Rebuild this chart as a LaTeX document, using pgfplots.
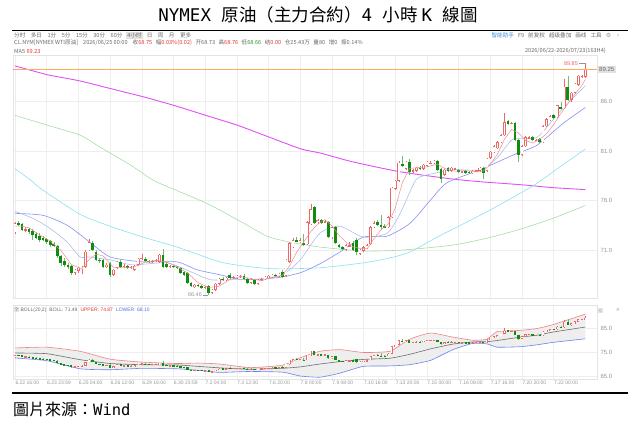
\documentclass[border=0pt]{standalone}
\usepackage{fontspec}
\setmainfont{Liberation Sans}
\newfontfamily\cjktc{Noto Sans CJK TC}
\newfontfamily\cjksc{Noto Sans CJK SC}
\newfontfamily\mono{DejaVu Sans Mono}
\newfontfamily\djv{DejaVu Sans}
\usepackage{pgfplots}
\usepackage{pgfplotstable}
\pgfplotsset{compat=1.18}
\usepgfplotslibrary{fillbetween}

\definecolor{upc}{RGB}{236,104,104}
\definecolor{dnc}{RGB}{16,140,16}
\definecolor{dnw}{RGB}{110,190,110}
\definecolor{ma5c}{RGB}{240,140,140}
\definecolor{ma10c}{RGB}{175,190,235}
\definecolor{ma20c}{RGB}{135,145,240}
\definecolor{ma60c}{RGB}{135,225,240}
\definecolor{ma120c}{RGB}{165,222,165}
\definecolor{ma250c}{RGB}{225,80,245}
\definecolor{orangeline}{RGB}{255,170,90}
\definecolor{gridc}{RGB}{238,238,238}
\definecolor{axc}{RGB}{228,228,228}
\definecolor{labc}{RGB}{150,150,150}
\definecolor{txtc}{RGB}{105,105,105}
\definecolor{redc}{RGB}{230,50,50}
\definecolor{grnc}{RGB}{30,150,30}
\definecolor{bluec}{RGB}{80,110,230}
\definecolor{bollup}{RGB}{240,130,130}
\definecolor{bollmid}{RGB}{110,110,110}
\definecolor{bolllo}{RGB}{110,130,240}
\definecolor{bollfill}{RGB}{238,238,238}
\definecolor{boxc}{RGB}{226,226,226}
\definecolor{helpc}{RGB}{60,140,220}

\pgfplotstableread{
i o h l c
0 72.8 73.8 72.6 73.7
1 73.7 73.9 73.4 73.6
2 73.6 73.7 72.9 73.0
3 73.0 73.3 72.8 73.1
4 73.1 73.2 72.6 72.8
5 72.9 73.1 72.0 72.5
6 72.6 72.8 72.1 72.2
7 72.4 72.7 71.8 72.0
8 72.2 72.4 71.9 72.0
9 72.1 72.2 71.6 71.8
10 71.9 72.0 71.3 71.5
11 71.6 71.8 71.3 71.5
12 71.4 71.5 70.2 70.4
13 70.4 70.5 69.4 69.7
14 69.9 70.2 69.3 69.5
15 69.5 69.7 69.1 69.3
16 69.4 69.5 68.5 68.7
17 68.7 69.1 68.5 69.0
18 68.9 69.3 68.7 69.2
19 69.1 69.4 68.6 69.3
20 69.3 71.0 69.2 70.8
21 71.0 72.1 70.9 71.8
22 71.7 71.9 70.9 71.0
23 70.8 71.0 69.9 70.0
24 70.0 70.2 69.7 69.9
25 70.0 70.1 69.2 69.3
26 69.3 69.7 69.2 69.5
27 69.7 69.8 68.3 68.5
28 68.5 69.1 68.4 69.0
29 69.2 69.9 69.1 69.8
30 69.8 70.0 69.2 69.3
31 69.3 69.6 69.2 69.4
32 69.4 69.5 69.1 69.2
33 69.2 69.4 69.1 69.3
34 69.0 69.5 68.9 69.4
35 69.5 70.2 69.4 70.1
36 70.1 70.6 70.0 70.2
37 70.1 70.3 69.8 69.9
38 69.9 70.0 69.7 69.8
39 69.8 70.0 69.7 69.9
40 69.9 70.1 69.8 70.0
41 69.8 70.6 69.7 70.5
42 70.5 71.1 69.2 69.3
43 69.6 69.8 69.2 69.3
44 69.3 69.5 69.2 69.4
45 69.4 69.5 69.2 69.3
46 69.3 69.4 69.1 69.2
47 69.2 69.3 68.6 68.7
48 68.8 68.9 68.4 68.5
49 68.7 68.8 67.6 67.7
50 67.7 67.8 67.3 67.4
51 67.3 67.6 67.2 67.5
52 67.5 67.6 67.3 67.4
53 67.4 67.5 67.1 67.2
54 67.2 67.4 67.1 67.3
55 67.4 67.5 66.46 66.7
56 66.7 67.1 66.6 67.0
57 67.0 67.7 66.9 67.6
58 67.6 68.2 67.5 68.1
59 68.1 68.3 67.9 68.0
60 68.0 68.3 67.9 68.2
61 68.5 68.7 68.1 68.2
62 68.2 68.4 68.1 68.3
63 68.2 68.5 68.1 68.4
64 68.3 68.5 68.2 68.4
65 68.4 68.6 68.0 68.1
66 68.1 68.2 67.6 67.7
67 67.7 68.2 67.6 68.0
68 68.0 68.1 67.5 67.6
69 67.6 68.1 67.5 68.0
70 68.0 68.2 67.9 68.1
71 68.1 68.4 68.0 68.3
72 68.2 68.5 68.1 68.4
73 68.3 68.6 68.2 68.5
74 68.5 68.6 68.3 68.4
75 68.4 68.7 68.3 68.6
76 68.8 69.0 68.2 68.3
77 68.4 70.1 68.3 70.0
78 69.8 71.8 69.7 71.7
79 71.3 72.2 71.2 72.0
80 72.0 72.3 71.8 71.9
81 71.8 72.2 71.7 72.0
82 71.7 72.6 71.4 71.5
83 71.6 73.9 71.5 73.8
84 73.6 75.6 73.5 75.1
85 75.3 75.4 73.6 73.7
86 73.8 74.1 73.6 74.0
87 74.0 74.1 73.6 73.7
88 73.8 74.0 73.7 73.9
89 73.8 73.9 72.2 72.3
90 72.3 73.4 72.1 73.3
91 73.3 73.4 71.6 71.7
92 71.5 71.6 71.2 71.3
93 71.3 71.4 71.0 71.2
94 71.0 71.6 70.9 71.5
95 71.4 71.8 71.3 71.5
96 71.7 71.9 70.9 71.0
97 72.0 72.2 70.5 70.8
98 70.6 71.1 70.5 71.0
99 70.9 71.4 70.8 71.3
100 71.2 71.6 71.1 71.5
101 71.6 73.4 71.5 73.3
102 73.3 73.9 73.2 73.7
103 73.8 74.0 73.4 73.5
104 73.5 74.5 73.0 73.3
105 73.4 73.6 73.2 73.3
106 73.3 74.4 73.2 74.3
107 74.3 77.4 74.2 77.3
108 77.2 78.1 77.1 78.0
109 78.0 80.0 77.9 79.8
110 79.7 80.5 79.4 79.5
111 79.2 80.0 79.1 79.9
112 79.9 80.2 78.6 78.9
113 79.0 79.2 78.8 79.0
114 79.0 79.4 78.9 79.3
115 79.3 79.5 79.1 79.2
116 79.2 79.7 79.1 79.6
117 79.5 80.0 79.4 79.9
118 79.8 80.0 79.7 79.8
119 79.8 80.1 79.7 80.0
120 80.0 80.1 79.0 79.1
121 79.2 79.3 77.8 78.2
122 78.6 79.2 78.5 79.1
123 79.3 79.4 78.9 79.0
124 79.0 79.4 78.9 79.3
125 79.2 79.3 79.1 79.2
126 79.1 79.2 78.8 78.9
127 78.9 79.0 78.8 78.9
128 79.0 79.1 78.7 78.8
129 78.9 79.0 78.7 78.8
130 78.8 79.1 78.7 79.0
131 79.0 79.1 78.9 79.0
132 79.0 79.4 78.9 79.3
133 79.3 79.4 78.2 78.8
134 79.0 80.3 78.9 80.2
135 80.3 81.0 80.2 80.9
136 80.9 81.6 80.8 81.5
137 81.3 82.0 81.2 81.9
138 81.9 82.7 81.8 82.6
139 82.6 84.8 82.5 83.9
140 84.0 84.1 83.6 83.7
141 83.8 83.9 83.7 83.8
142 83.8 83.9 82.0 82.1
143 82.1 82.2 79.9 80.6
144 80.6 81.6 80.5 81.5
145 81.5 82.5 81.4 82.4
146 82.3 82.5 82.2 82.4
147 82.4 82.5 82.0 82.1
148 82.1 82.2 82.0 82.1
149 82.2 82.3 81.8 81.9
150 81.9 83.6 81.8 83.5
151 83.5 84.3 83.4 84.2
152 84.1 84.6 84.0 84.5
153 84.6 84.7 84.2 84.3
154 84.4 85.7 84.3 85.6
155 85.4 86.0 85.2 85.3
156 85.3 88.3 85.2 87.5
157 87.5 88.6 86.1 86.2
158 86.2 87.0 86.0 86.9
159 86.9 87.9 86.8 87.8
160 87.7 88.7 87.6 88.6
161 88.5 88.7 88.4 88.6
162 88.5 89.85 88.4 89.25
}\candledata

\pgfplotstableread{
i v
0 73.4
2 73.4
4 73.24
5 73.0
7 72.52
10 71.9
13 70.98
16 69.52
19 69.1
21 70.02
23 70.58
25 70.4
28 69.24
31 69.2
34 69.32
37 69.78
40 69.96
43 69.8
46 69.3
49 68.68
52 67.7
55 67.22
58 67.34
61 68.02
64 68.3
67 68.12
70 67.88
73 68.26
76 68.44
78 69.4
80 70.78
82 71.82
84 72.86
86 73.62
88 74.08
90 73.44
92 72.5
94 71.8
96 71.3
98 71.16
100 71.12
102 72.16
104 73.06
106 73.62
108 75.24
110 77.78
112 79.22
114 79.32
117 79.4
120 79.68
122 79.24
125 78.96
128 79.02
131 78.9
133 78.98
135 79.64
137 80.66
139 82.16
141 83.18
143 82.82
145 82.08
147 81.8
149 82.18
151 82.76
153 83.68
155 84.78
157 85.78
159 86.74
161 87.62
162 88.23
}\maV

\pgfplotstableread{
i v
0 74.9
5.1 74.2
9.9 73.2
14.8 71.8
18.5 70.3
21.3 70.3
27 70.0
33.5 69.5
43.2 69.7
50.6 68.7
55.4 68.0
61.9 68.0
71.6 68.1
76.1 68.5
81 70.0
86.6 72.7
92.3 73.4
98.9 72.3
105.7 72.7
109.4 74.7
113.1 77.6
115.1 78.4
124.4 79.1
132.1 79.1
136.9 80.3
141.5 82.2
148.3 82.4
154.8 85.0
162 87.6
}\maX

\pgfplotstableread{
i v
0 74.7
8 74.5
14.8 73.5
20.5 72.0
27 70.3
36.4 69.8
46 69.8
51.7 69.0
58.2 68.5
64.8 68.0
74.4 68.2
81 68.7
86.6 69.6
92.3 70.8
98.9 72.3
105.7 72.4
112.2 73.7
117.9 76.0
122.7 77.8
132.1 79.1
141.5 80.6
148.3 81.6
155.7 83.8
162 85.4
}\maXX

\pgfplotstableread{
i v
0 79.2
4.3 78.1
7.7 77.1
18.5 74.6
27 73.4
36.4 72.3
46 71.3
58.2 69.8
66.8 69.3
74.4 69.1
86.6 69.2
98.9 69.7
106.5 70.2
112.2 70.8
119.9 72.3
129.3 74.0
135.8 75.2
147.2 77.5
154.8 79.4
162 81.2
}\maLX

\pgfplotstableread{
i v
0 84.6
9.3 83.6
18.5 82.6
24.1 81.4
32.7 79.6
39 78.1
42 77.6
54.5 75.7
64 73.9
71.6 72.4
78 71.8
86.6 71.3
98.9 70.9
110.2 71.0
124.4 71.5
134.1 72.2
143.5 73.1
152.8 74.2
162 75.5
}\maCXX

\pgfplotstableread{
i v
0 89.6
9.3 88.7
18.2 88.1
27.2 87.3
36.2 86.5
45.2 85.6
54.2 84.6
63.2 83.6
72.2 82.4
81.3 81.2
86.6 80.8
96 79.9
109.4 78.9
123.6 78.2
132 77.9
143.5 77.6
152.8 77.3
162 77.1
}\maCCL

\pgfplotstableread{
i v
-0.57 89.25
165.3 89.25
}\lastprice

\pgfplotstableread{
i up mid lo
0 76.7 74.6 72.5
9 77.0 74.3 71.4
18.5 75.3 71.8 68.0
27 72.0 70.2 67.6
36 70.8 69.7 68.2
46 70.2 69.6 68.0
52 70.4 69.0 67.4
58 70.0 68.4 66.5
66.8 68.5 67.8 66.9
76 69.5 68.2 66.6
81 72.6 68.8 65.0
86.6 75.3 70.0 64.5
92.3 76.0 71.0 66.2
98.9 74.8 71.9 69.0
106.5 75.3 72.4 69.2
112 80.3 74.0 69.7
118 82.9 76.3 71.5
124.4 81.2 78.3 76.0
130 79.9 79.2 78.6
134 80.3 79.3 78.4
137 83.5 79.8 77.0
143.5 84.0 81.2 77.2
148.3 84.8 82.0 78.0
152.8 86.4 83.3 79.0
162 90.8 85.4 80.5
}\bolldata

% #1 body width, #2 inner (hollow) width, #3 border in data units, #4 minimal half-height
\newcommand{\drawcandles}[4]{%
\addplot[forget plot, draw=none, mark=none, error bars/.cd, y dir=both, y explicit, error mark=none,
  error bar style={draw=upc, line width=0.45pt}]
  table[x=i, y expr={(\thisrow{c}>=\thisrow{o}) ? ((\thisrow{h}+\thisrow{l})/2) : nan},
        y error expr={(\thisrow{h}-\thisrow{l})/2}] {\candledata};
\addplot[forget plot, draw=none, mark=none, error bars/.cd, y dir=both, y explicit, error mark=none,
  error bar style={draw=dnw, line width=0.45pt}]
  table[x=i, y expr={(\thisrow{c}<\thisrow{o}) ? ((\thisrow{h}+\thisrow{l})/2) : nan},
        y error expr={(\thisrow{h}-\thisrow{l})/2}] {\candledata};
\addplot[forget plot, draw=none, mark=none, error bars/.cd, y dir=both, y explicit, error mark=none,
  error bar style={draw=upc, line width=#1}]
  table[x=i, y expr={(\thisrow{c}>=\thisrow{o}) ? ((\thisrow{o}+\thisrow{c})/2) : nan},
        y error expr={max((\thisrow{c}-\thisrow{o})/2, #4)}] {\candledata};
\addplot[forget plot, draw=none, mark=none, error bars/.cd, y dir=both, y explicit, error mark=none,
  error bar style={draw=white, line width=#2}]
  table[x=i, y expr={(\thisrow{c}>=\thisrow{o}) ? ((\thisrow{o}+\thisrow{c})/2) : nan},
        y error expr={max((\thisrow{c}-\thisrow{o})/2-#3, 0)}] {\candledata};
\addplot[forget plot, draw=none, mark=none, error bars/.cd, y dir=both, y explicit, error mark=none,
  error bar style={draw=dnc, line width=#1}]
  table[x=i, y expr={(\thisrow{c}<\thisrow{o}) ? ((\thisrow{o}+\thisrow{c})/2) : nan},
        y error expr={max((\thisrow{o}-\thisrow{c})/2, #4)}] {\candledata};
}

\begin{document}
\begin{tikzpicture}
\path (0,0) rectangle (640pt,429pt);

% title and rules
\node[font=\fontsize{17.5}{20}\selectfont, inner sep=0pt] at (318pt,414pt)
  {\mono NYMEX \cjktc 原油（主力合約）\mono 4 \cjktc 小時 \mono K \cjktc 線圖};
\draw[line width=1.3pt] (12pt,398.5pt) -- (628pt,398.5pt);
\draw[line width=1.3pt] (12pt,36pt) -- (628pt,36pt);
\node[anchor=west, inner sep=0pt] at (13pt,19.5pt)
  {\fontsize{16}{18}\selectfont\cjktc 圖片來源：\fontsize{15.5}{18}\selectfont\mono Wind};

% toolbar
\node[anchor=west, inner sep=0pt, text=txtc] at (14pt,393.5pt)
  {\cjksc\fontsize{5.6}{6.5}\selectfont 分时\hspace{5.5pt}多日\hspace{5.5pt}1分\hspace{5.5pt}5分\hspace{5.5pt}15分\hspace{5.5pt}30分\hspace{5.5pt}60分\hspace{4pt}{\setlength{\fboxsep}{1pt}\colorbox{boxc}{4小时}}\hspace{4pt}日\hspace{5.5pt}周\hspace{5.5pt}月\hspace{5.5pt}更多};
\node[anchor=east, inner sep=0pt, text=txtc] at (602pt,393.5pt)
  {\cjksc\fontsize{5.6}{6.5}\selectfont{\color{helpc}智能助手}\hspace{4pt}F9\hspace{4pt}前复权\hspace{4pt}超级叠加\hspace{4pt}画线\hspace{4pt}工具};
\node[inner sep=0pt, text=labc] at (608.5pt,393.5pt) {\djv\fontsize{6}{7}\selectfont ⚙};
\node[inner sep=0pt, text=labc] at (618pt,393.5pt) {\djv\fontsize{6}{7}\selectfont ›};
\node[anchor=west, inner sep=0pt, text=txtc] at (14pt,386pt)
  {\cjksc\fontsize{5.6}{6.5}\selectfont CL.NYM[NYMEX WTI原油]\hspace{5pt}2026/06/25 00:00\hspace{5pt}收{\color{redc}68.75}\hspace{3.5pt}幅{\color{redc}0.03\%(0.02)}\hspace{3.5pt}开68.73\hspace{3.5pt}高{\color{redc}68.76}\hspace{3.5pt}低{\color{grnc}68.66}\hspace{3.5pt}结{\color{redc}0.00}\hspace{3.5pt}仓25.43万\hspace{3.5pt}量80\hspace{3.5pt}增0\hspace{3.5pt}振0.14\%};
\node[anchor=west, inner sep=0pt, text=txtc] at (14pt,378pt)
  {\cjksc\fontsize{5.6}{6.5}\selectfont MA5 {\color{redc}69.23}};
\node[anchor=east, inner sep=0pt, text=txtc] at (606pt,378pt)
  {\cjksc\fontsize{5.6}{6.5}\selectfont 2026/06/22-2026/07/23(163H4)};

% ---------------- main K-line panel ----------------
\begin{axis}[
  scale only axis, width=584pt, height=243pt,
  at={(13pt,131pt)}, anchor=south west,
  xmin=-0.57, xmax=165.3, ymin=66.15, ymax=90.70,
  clip=false,
  axis line style={draw=axc, line width=0.4pt},
  xtick={0,9,...,153}, xticklabels={},
  ytick={71,76,81,86}, yticklabel pos=right,
  yticklabel={\pgfmathprintnumber[fixed,fixed zerofill,precision=1,assume math mode=true]{\tick}},
  yticklabel style={font=\fontsize{6}{7}\selectfont, text=labc},
  major tick length=0pt,
  xmajorgrids, ymajorgrids, major grid style={draw=gridc, line width=0.4pt},
]
\addplot[ma250c, line width=0.9pt, smooth, tension=0.4] table[x=i,y=v] {\maCCL};
\addplot[ma120c, line width=0.6pt, smooth, tension=0.4] table[x=i,y=v] {\maCXX};
\addplot[ma60c, line width=0.6pt, smooth, tension=0.4] table[x=i,y=v] {\maLX};
\addplot[ma20c, line width=0.6pt, smooth, tension=0.4] table[x=i,y=v] {\maXX};
\addplot[ma10c, line width=0.6pt, smooth, tension=0.4] table[x=i,y=v] {\maX};
\drawcandles{2.6pt}{1.6pt}{0.05}{0.04}
\addplot[ma5c, line width=0.5pt] table[x=i,y=v] {\maV};
\addplot[orangeline, line width=1.2pt, mark=none, forget plot] table[x=i,y=v] {\lastprice};
\node[anchor=west, fill=boxc, inner xsep=2pt, inner ysep=1.3pt, text=txtc, font=\fontsize{6}{7}\selectfont]
  at (axis cs:165.3,89.25) {89.25};
\node[anchor=east, inner sep=1pt, text=upc, font=\fontsize{5.5}{6}\selectfont] at (axis cs:160.2,89.85) {89.85};
\draw[labc, line width=0.3pt] (axis cs:160.2,89.85) -- (axis cs:161.8,89.85);
\node[anchor=east, inner sep=1pt, text=labc, font=\fontsize{5.5}{6}\selectfont] at (axis cs:53.4,66.46) {66.46};
\draw[labc, line width=0.3pt] (axis cs:53.4,66.46) -- (axis cs:54.8,66.46);
\end{axis}

% ---------------- BOLL panel ----------------
\begin{axis}[
  scale only axis, width=584pt, height=74pt,
  at={(13pt,50pt)}, anchor=south west,
  xmin=-0.57, xmax=165.3, ymin=63.75, ymax=94.58,
  clip=false,
  axis line style={draw=axc, line width=0.4pt},
  xtick={0,9,...,153},
  xticklabels={6.22 16:00, 6.23 23:59, 6.25 04:00, 6.26 12:00, 6.29 16:00, 6.30 23:59, 7.2 04:00, 7.3 12:00, 7.6 20:00, 7.8 00:00, 7.9 08:00, 7.10 16:00, 7.13 20:00, 7.15 00:00, 7.16 08:00, 7.17 16:00, 7.20 20:00, 7.22 00:00},
  xticklabel style={anchor=north west, font=\fontsize{5}{6}\selectfont, text=labc, inner xsep=0.3pt, inner ysep=1.5pt},
  ytick={65,75,85}, yticklabel pos=right,
  yticklabel={\pgfmathprintnumber[fixed,fixed zerofill,precision=1,assume math mode=true]{\tick}},
  yticklabel style={font=\fontsize{6}{7}\selectfont, text=labc},
  major tick length=0pt,
  xmajorgrids, ymajorgrids, major grid style={draw=gridc, line width=0.4pt},
]
\addplot[draw=none, name path=bu, forget plot] table[x=i,y=up] {\bolldata};
\addplot[draw=none, name path=bl, forget plot] table[x=i,y=lo] {\bolldata};
\addplot[bollfill, forget plot] fill between[of=bu and bl];
\addplot[bollup, line width=0.6pt, smooth, tension=0.3] table[x=i,y=up] {\bolldata};
\addplot[bolllo, line width=0.6pt, smooth, tension=0.3] table[x=i,y=lo] {\bolldata};
\addplot[bollmid, line width=0.6pt, smooth, tension=0.3] table[x=i,y=mid] {\bolldata};
\drawcandles{2.2pt}{1.3pt}{0.19}{0.12}
\node[anchor=west, fill=boxc, inner xsep=2pt, inner ysep=1.3pt, text=txtc, font=\fontsize{5}{6}\selectfont]
  at (axis cs:165.3,92.2) {\djv‹\hspace{8pt}};
\node[anchor=west, inner sep=0pt, text=labc, font=\fontsize{5}{6}\selectfont] at (axis cs:170.6,92.6) {\djv ×};
\end{axis}

\node[anchor=west, inner sep=0pt] at (14pt,119pt)
  {\fontsize{5}{6}\selectfont{\setlength{\fboxsep}{0.8pt}\colorbox{boxc}{\textcolor{txtc}{?}}}\hspace{2pt}\textcolor{txtc}{BOLL(20,2)\hspace{3pt}BOLL: 71.49}\hspace{3pt}\textcolor{redc}{UPPER: 74.87}\hspace{3pt}\textcolor{bluec}{LOWER: 68.10}};
\pgfresetboundingbox
\path[use as bounding box] (0,0) rectangle (640pt,429pt);
\end{tikzpicture}
\end{document}
